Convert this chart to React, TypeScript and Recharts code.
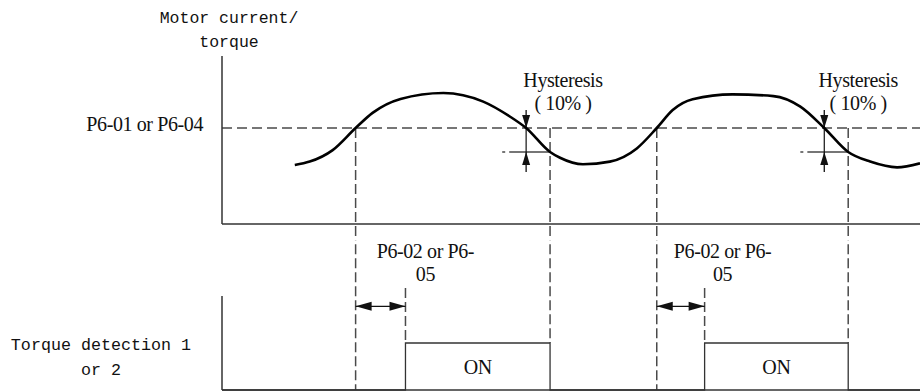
import {
  ComposedChart,
  Line,
  XAxis,
  YAxis,
  ReferenceLine,
  ReferenceDot,
  ReferenceArea,
} from "recharts";

// motor current / torque curve (time in s, value in arbitrary units)
const curveTime = [0.73, 0.88, 1.11, 1.34, 1.51, 1.79, 2.22, 2.62, 2.89, 3.05, 3.29, 3.39, 3.62, 3.89, 4.16, 4.36, 4.52, 4.72, 5.12, 5.53, 5.8, 6.04, 6.28, 6.5, 6.77, 7.0];
const curveValue = [2.46, 2.6, 3.08, 4.0, 4.63, 5.21, 5.46, 5.1, 4.47, 4.0, 3.0, 2.76, 2.49, 2.6, 3.15, 4.0, 4.75, 5.2, 5.4, 5.33, 4.89, 4.0, 3.0, 2.6, 2.36, 2.53];

const threshold = 4;
const hysteresisLevel = 3;

// event times
const crossUp = [1.34, 4.36];
const onStart = [1.84, 4.84];
const crossDown = [3.05, 6.04];
const onEnd = [3.29, 6.28];
const hystDashStart = [2.81, 5.8];
const hystLabelTime = [3.42, 6.38];
const delayLabelTime = [2.04, 5.02];

// detection output
const signalTime = [0, 1.84, 3.29, 4.84, 6.28, 7];
const signalState = [0, 1, 0, 1, 0, 0];

const thresholdLabel = "P6-01 or P6-04";
const currentTitle = ["Motor current/", "torque"];
const outputTitle = ["Torque detection 1", "or 2"];
const hysteresisText = ["Hysteresis", "( 10% )"];
const delayText = ["P6-02 or P6-", "05"];
const onText = "ON";

const curveData = curveTime.map((t, i) => ({ t, v: curveValue[i] }));
const signalData = signalTime.map((t, i) => ({ t, s: signalState[i] }));

const serif = '"Liberation Serif", "Times New Roman", serif';
const mono = '"Liberation Mono", "DejaVu Sans Mono", monospace';
const ink = "#111";
const dash = "#4a4a4a";
const serifSize = 20;
const serifSpacing = -0.4;

const arrow = (both: boolean, len: number, half: number) => (p: any) => {
  const { x1, y1, x2, y2 } = p;
  const a = Math.atan2(y2 - y1, x2 - x1);
  const head = (tx: number, ty: number, ang: number) => {
    const c = Math.cos(ang);
    const s = Math.sin(ang);
    const bx = tx - len * c;
    const by = ty - len * s;
    return `${tx},${ty} ${bx - half * s},${by + half * c} ${bx + half * s},${by - half * c}`;
  };
  return (
    <g>
      <line x1={x1} y1={y1} x2={x2} y2={y2} stroke={ink} strokeWidth={1.3} />
      <polygon points={head(x2, y2, a)} fill={ink} />
      {both && <polygon points={head(x1, y1, a + Math.PI)} fill={ink} />}
    </g>
  );
};

const twoLines = (lines: string[], gap: number) => (p: any) => (
  <text x={p.cx} y={p.cy} textAnchor="middle" fontFamily={serif} fontSize={serifSize} letterSpacing={serifSpacing} fill={ink}>
    <tspan x={p.cx} dy={0}>{lines[0]}</tspan>
    <tspan x={p.cx} dy={gap}>{lines[1]}</tspan>
  </text>
);

const ThresholdTick = (p: any) => (
  <text x={p.x} y={p.y + 3} textAnchor="end" fontFamily={serif} fontSize={serifSize} letterSpacing={serifSpacing} fill={ink}>
    {thresholdLabel}
  </text>
);

const OutputTick = (p: any) => (
  <text x={p.x} y={p.y + 7} textAnchor="middle" fontFamily={mono} fontSize={16.7} fill={ink}>
    <tspan x={p.x} dy={0}>{outputTitle[0]}</tspan>
    <tspan x={p.x} dy={25}>{outputTitle[1]}</tspan>
  </text>
);

const CurrentTitle = (p: any) => {
  const vb = p.viewBox;
  const x = vb.x + vb.width + 7;
  return (
    <text x={x} y={vb.y - 33} textAnchor="middle" fontFamily={mono} fontSize={16.5} fill={ink}>
      <tspan x={x} dy={0}>{currentTitle[0]}</tspan>
      <tspan x={x} dy={24}>{currentTitle[1]}</tspan>
    </text>
  );
};

const OnBox = (p: any) => (
  <text x={p.x + p.width / 2} y={p.y + p.height / 2 + 7} textAnchor="middle" fontFamily={serif} fontSize={serifSize} letterSpacing={serifSpacing} fill={ink}>
    {onText}
  </text>
);

const axisStyle = { stroke: "#333", strokeWidth: 1.5 };

export default function App() {
  return (
    <div style={{ position: "absolute", left: 0, top: 0, width: 920, height: 391, background: "#fff" }}>
      <ComposedChart width={920} height={240} data={curveData} margin={{ top: 56, right: 0, bottom: 0, left: 0 }}>
        <XAxis dataKey="t" type="number" domain={[0, 7]} height={16} tick={false} tickLine={false} axisLine={axisStyle} />
        <YAxis
          type="number"
          domain={[0, 7]}
          ticks={[threshold]}
          width={222}
          tickLine={false}
          tickMargin={13}
          tick={<ThresholdTick />}
          axisLine={axisStyle}
          label={{ content: CurrentTitle }}
        />
        <ReferenceLine y={threshold} stroke={dash} strokeWidth={1.5} strokeDasharray="10 5" />
        {crossUp.concat(onEnd).map((t, i) => (
          <ReferenceLine key={"v" + i} segment={[{ x: t, y: threshold }, { x: t, y: -1 }]} ifOverflow="visible" stroke={dash} strokeWidth={1.5} strokeDasharray="10 4" />
        ))}
        {crossDown.map((t, i) => (
          <ReferenceLine key={"hd" + i} segment={[{ x: hystDashStart[i], y: hysteresisLevel }, { x: onEnd[i], y: hysteresisLevel }]} stroke={dash} strokeWidth={1.3} strokeDasharray="3 4 60" />
        ))}
        {crossDown.map((t, i) => (
          <ReferenceLine key={"hm" + i} segment={[{ x: t, y: threshold }, { x: t, y: hysteresisLevel }]} stroke={ink} strokeWidth={1.2} />
        ))}
        {crossDown.map((t, i) => (
          <ReferenceLine key={"ha" + i} segment={[{ x: t, y: 4.75 }, { x: t, y: threshold }]} shape={arrow(false, 13, 4)} />
        ))}
        {crossDown.map((t, i) => (
          <ReferenceLine key={"hb" + i} segment={[{ x: t, y: 2.17 }, { x: t, y: hysteresisLevel }]} shape={arrow(false, 13, 4)} />
        ))}
        {hystLabelTime.map((t, i) => (
          <ReferenceDot key={"hl" + i} x={t} y={5.71} r={0} shape={twoLines(hysteresisText, 23)} />
        ))}
        <Line dataKey="v" type="monotone" stroke="#000" strokeWidth={2.6} dot={false} activeDot={false} isAnimationActive={false} />
      </ComposedChart>
      <ComposedChart width={920} height={151} data={signalData} margin={{ top: 56, right: 0, bottom: 0, left: 0 }}>
        <XAxis dataKey="t" type="number" domain={[0, 7]} height={1} tick={false} tickLine={false} axisLine={axisStyle} />
        <YAxis
          type="number"
          domain={[0, 2]}
          ticks={[1]}
          width={222}
          tickLine={false}
          tickMargin={115}
          tick={<OutputTick />}
          axisLine={axisStyle}
        />
        {crossUp.map((t, i) => (
          <ReferenceLine key={"cu" + i} segment={[{ x: t, y: 3.4 }, { x: t, y: 0 }]} ifOverflow="visible" stroke={dash} strokeWidth={1.5} strokeDasharray="10 4" />
        ))}
        {onEnd.map((t, i) => (
          <ReferenceLine key={"oe" + i} segment={[{ x: t, y: 3.4 }, { x: t, y: 1 }]} ifOverflow="visible" stroke={dash} strokeWidth={1.5} strokeDasharray="10 4" />
        ))}
        {onStart.map((t, i) => (
          <ReferenceLine key={"os" + i} segment={[{ x: t, y: 2.17 }, { x: t, y: 1 }]} ifOverflow="visible" stroke={dash} strokeWidth={1.5} strokeDasharray="10 4" />
        ))}
        {onStart.map((t, i) => (
          <ReferenceLine key={"da" + i} segment={[{ x: crossUp[i], y: 1.78 }, { x: t, y: 1.78 }]} shape={arrow(true, 16, 4.5)} />
        ))}
        {delayLabelTime.map((t, i) => (
          <ReferenceDot key={"dl" + i} x={t} y={2.81} r={0} ifOverflow="visible" shape={twoLines(delayText, 23)} />
        ))}
        {onStart.map((t, i) => (
          <ReferenceArea key={"on" + i} x1={t} x2={onEnd[i]} y1={0} y2={1} shape={OnBox} />
        ))}
        <Line dataKey="s" type="stepAfter" stroke="#333" strokeWidth={1.3} dot={false} activeDot={false} isAnimationActive={false} />
      </ComposedChart>
    </div>
  );
}
